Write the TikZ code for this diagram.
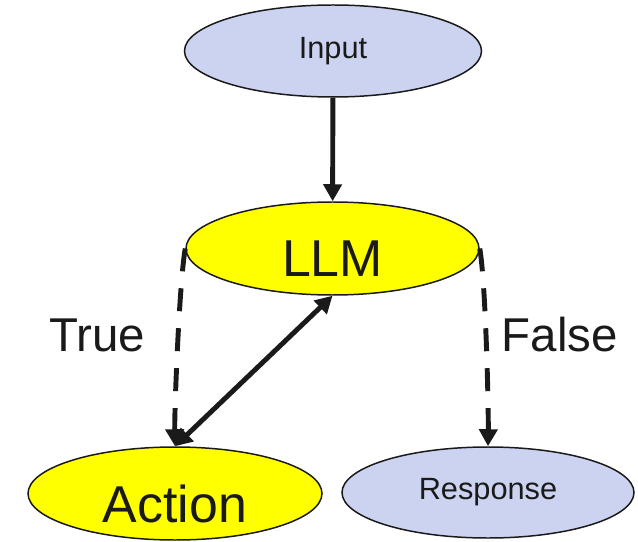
\documentclass[tikz,border=0pt]{standalone}
\usepackage{fontspec}
\setmainfont{Liberation Sans}
\definecolor{agentLavender}{RGB}{204,211,240}
\definecolor{agentYellow}{RGB}{255,255,0}
\definecolor{agentInk}{RGB}{26,26,26}
\usepackage{tikz}
\usetikzlibrary{shapes.geometric,arrows.meta}

\begin{document}
\begin{tikzpicture}[
        >={Triangle[length=0.34cm, width=0.36cm]},
        blob/.style={ellipse, draw=agentInk, line width=0.85pt, inner sep=0pt, text=agentInk},
        softblob/.style={blob, fill=agentLavender, font=\fontsize{17.5}{20}\selectfont},
        loudblob/.style={blob, fill=agentYellow, font=\fontsize{29.5}{34}\selectfont,
                         text height=1.14cm, text depth=0pt},
        flow/.style={draw=agentInk, line width=2.8pt},
        branch/.style={flow, dash pattern=on 0.46cm off 0.34cm},
        tag/.style={text=agentInk, font=\fontsize{27}{31}\selectfont}]
        \useasboundingbox (0,0) rectangle (12.76,10.82);
        \node[softblob, minimum width=5.94cm, minimum height=1.84cm] (input) at (6.66,9.80) {Input};
        \node[loudblob, minimum width=5.86cm, minimum height=1.86cm] (llm) at (6.65,5.85) {LLM};
        \node[loudblob, minimum width=5.88cm, minimum height=1.86cm] (action) at (3.50,0.95) {Action};
        \node[softblob, minimum width=5.84cm, minimum height=1.82cm] (response) at (9.76,0.97) {Response};
        \node[tag] (yes) at (1.94,4.12) {True};
        \node[tag] (no) at (11.20,4.12) {False};
        \draw[flow, ->] (input) -- (llm);
        \draw[branch, ->] (llm.west) to[out=-100, in=91, looseness=0.45] (action.north);
        \draw[branch, ->] (llm.east) to[out=-80, in=89, looseness=0.45] (response.north);
        \draw[flow, <->] (action.north) -- (llm.south);
      \end{tikzpicture}
\end{document}
